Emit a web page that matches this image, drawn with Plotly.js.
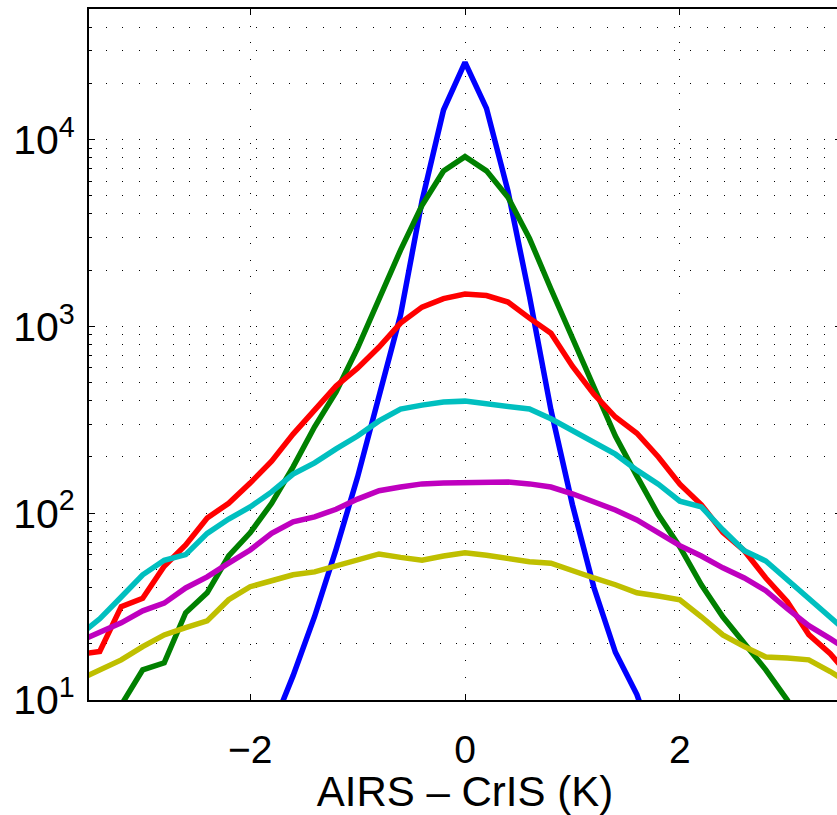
<!DOCTYPE html>
<html>
<head>
<meta charset="utf-8">
<script src="https://cdn.plot.ly/plotly-3.0.1.min.js"></script>
<style>
html,body{margin:0;padding:0;overflow:hidden;background:#fff;}
#chart{width:845px;height:815px;}
</style>
</head>
<body>
<div id="chart"></div>
<script>
// Bin centres (K)
const binCenters = [-3.6,-3.4,-3.2,-3.0,-2.8,-2.6,-2.4,-2.2,-2.0,-1.8,-1.6,-1.4,-1.2,-1.0,-0.8,-0.6,-0.4,-0.2,0,
  0.2,0.4,0.6,0.8,1.0,1.2,1.4,1.6,1.8,2.0,2.2,2.4,2.6,2.8,3.0,3.2,3.4,3.6];

// Histogram counts per series
const blueCounts = [null,null,null,null,null,null,null,null,null,7,13.5,28,64,156,420,1150,4700,14400,25900,
  14700,5300,1450,357,111,40,18,10.7,5,null,null,null,null,null,null,null,null,null];
const greenCounts = [null,7,9.4,14.5,15.8,29.3,37.5,59,78.5,113,177,290,446,766,1417,2560,4450,6790,8100,
  6800,4910,2960,1585,867,485,259,158,98,66,41.4,27.9,20.2,14.5,10,6.5,null,null];
const redCounts = [17.5,18.2,31.6,35,52,67.6,94.3,113,145,190,265,357,479,598,775,1042,1268,1409,1489,
  1462,1349,1107,920,612,434,327,268,200,143,111,79,63,45,33.6,22.4,17.7,13];
const cyanCounts = [22,27.2,35.6,46.8,56,60,78,93,108,130,162,186,221,259,312,361,379,394,398,
  385,375,361,320,275,238,207,170,143,116,108,81.5,63,55.5,44,35.6,28.2,22];
const magentaCounts = [20.5,22.9,25.9,30,33,39.8,45.6,54,63.5,78,90,95.5,105,119,132,138,143.5,145,146,
  146,147,143.5,138,127,115,104,92,79,67,59,51,45,38.5,30.8,25,21.3,18];
const yellowCounts = [12.8,14.5,16.4,19.3,22.3,24.4,26.5,34.4,40.4,43.5,46.8,48.5,52,55.6,60.5,58,56,59,61.4,
  59.6,57,55,54,49,45,41.4,37.5,36,34.4,27.9,22.3,19.3,17,16.8,16.4,14.2,12];

// Axis ticks
const xTickVals = [-2,0,2];
const xTickText = ['\u22122','0','2'];
const yTickVals = [10,100,1000,10000];
const yTickText = ['10<sup>1</sup>','10<sup>2</sup>','10<sup>3</sup>','10<sup>4</sup>'];
const yMinorVals = [20,30,40,50,60,70,80,90,200,300,400,500,600,700,800,900,
  2000,3000,4000,5000,6000,7000,8000,9000,20000,30000,40000];

const series = [
  {y: blueCounts, color: '#0000FF'},
  {y: greenCounts, color: '#008000'},
  {y: redCounts, color: '#FF0000'},
  {y: cyanCounts, color: '#00BFBF'},
  {y: magentaCounts, color: '#BF00BF'},
  {y: yellowCounts, color: '#BFBF00'}
];

const traces = series.map(s => ({
  x: binCenters, y: s.y, type: 'scatter', mode: 'lines',
  line: {color: s.color, width: 5.5}, connectgaps: false, hoverinfo: 'skip'
}));

const dotDash = '1px,15.7px';
const font = {family: 'Liberation Sans, Arial, Helvetica, sans-serif', color: '#000'};

const layout = {
  width: 845, height: 815,
  margin: {l: 89, r: 4, t: 9, b: 115, pad: 0},
  paper_bgcolor: '#fff', plot_bgcolor: '#fff',
  showlegend: false,
  font: font,
  xaxis: {
    range: [-3.5, 3.5],
    tickmode: 'array', tickvals: xTickVals, ticktext: xTickText,
    ticks: 'inside', ticklen: 6, tickwidth: 1, tickcolor: '#000',
    showline: true, linewidth: 2, linecolor: '#000', mirror: 'allticks',
    showgrid: true, gridcolor: '#000', gridwidth: 1, griddash: dotDash,
    zeroline: false,
    ticklabelstandoff: 14,
    tickfont: {family: font.family, size: 39, color: '#000'},
    title: {text: 'AIRS \u2013 CrIS (K)', font: {family: font.family, size: 42, color: '#000'}, standoff: 4},
    automargin: false
  },
  yaxis: {
    type: 'log',
    range: [1, 4.699],
    tickmode: 'array', tickvals: yTickVals, ticktext: yTickText,
    ticks: 'inside', ticklen: 6, tickwidth: 1, tickcolor: '#000',
    showline: true, linewidth: 2, linecolor: '#000', mirror: 'allticks',
    showgrid: true, gridcolor: '#000', gridwidth: 1, griddash: dotDash,
    zeroline: false,
    ticklabelstandoff: 4,
    tickfont: {family: font.family, size: 41, color: '#000'},
    minor: {tickmode: 'array', tickvals: yMinorVals, ticks: 'inside', ticklen: 3,
            tickcolor: '#000', showgrid: true, gridcolor: '#000', gridwidth: 1, griddash: dotDash},
    automargin: false
  }
};

Plotly.newPlot('chart', traces, layout, {displayModeBar: false, staticPlot: true});
</script>
</body>
</html>
